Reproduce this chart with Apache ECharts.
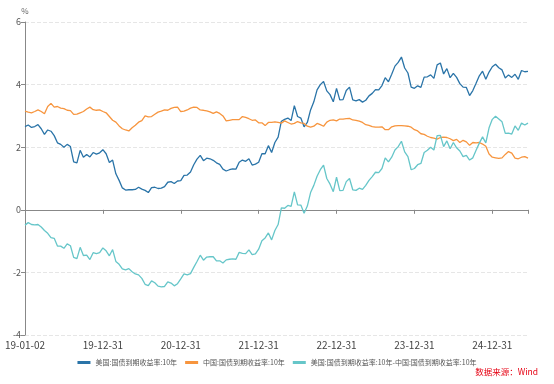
<!DOCTYPE html>
<html>
<head>
<meta charset="utf-8">
<script src="https://cdn.jsdelivr.net/npm/echarts@6/dist/echarts.min.js"></script>
<style>html,body{margin:0;padding:0;background:#fff;}#c{width:554px;height:384px;}</style>
</head>
<body>
<div id="c"></div>
<script>
// Semi-monthly observation dates (15th and month-end), first = 2019-01-02, last = 2025-06-15
const firstDate = '19-01-02';
const lastDate = '25-06-15';
const tickLabels = ['19-01-02','19-12-31','20-12-31','21-12-31','22-12-31','23-12-31','24-12-31'];
const seriesNames = ['美国:国债到期收益率:10年','中国:国债到期收益率:10年','美国:国债到期收益率:10年-中国:国债到期收益率:10年'];

const usYield = [
 2.66,2.71,2.63,2.66,2.72,2.59,2.41,2.55,2.51,2.37,2.14,2.09,2.00,2.09,2.02,1.53,1.50,1.90,1.68,1.77,1.69,1.83,1.78,1.82,1.92,
 1.79,1.51,1.59,1.15,0.94,0.70,0.63,0.64,0.64,0.65,0.72,0.66,0.62,0.55,0.71,0.72,0.68,0.69,0.74,0.88,0.90,0.84,0.92,0.93,
 1.10,1.11,1.21,1.44,1.62,1.74,1.57,1.65,1.63,1.58,1.50,1.45,1.30,1.24,1.28,1.31,1.30,1.52,1.59,1.55,1.63,1.43,1.46,1.52,
 1.79,1.79,2.05,1.83,2.15,2.32,2.83,2.89,2.93,2.85,3.33,2.98,2.93,2.65,2.79,3.19,3.45,3.83,4.00,4.10,3.80,3.68,3.45,3.88,
 3.51,3.52,3.81,3.92,3.51,3.48,3.52,3.44,3.50,3.64,3.72,3.84,3.83,3.97,4.22,4.09,4.33,4.59,4.71,4.88,4.53,4.37,3.92,3.88,
 3.96,3.91,4.24,4.25,4.31,4.20,4.63,4.69,4.34,4.51,4.22,4.36,4.23,4.03,3.92,3.91,3.65,3.81,4.04,4.28,4.43,4.17,4.40,4.57,
 4.65,4.54,4.47,4.21,4.31,4.23,4.33,4.17,4.45,4.41,4.42
];
const cnYield = [
 3.15,3.12,3.10,3.14,3.19,3.14,3.07,3.30,3.40,3.28,3.30,3.25,3.23,3.18,3.17,3.05,3.06,3.10,3.14,3.22,3.28,3.20,3.18,3.19,3.14,
 3.10,2.98,2.86,2.80,2.68,2.59,2.55,2.52,2.62,2.70,2.80,2.85,3.00,2.97,2.98,3.05,3.12,3.15,3.19,3.18,3.24,3.27,3.28,3.14,
 3.15,3.19,3.25,3.28,3.27,3.19,3.18,3.16,3.13,3.08,3.13,3.08,3.00,2.84,2.86,2.88,2.88,2.88,2.98,2.95,2.91,2.86,2.87,2.78,
 2.78,2.69,2.79,2.79,2.81,2.79,2.77,2.84,2.79,2.74,2.76,2.82,2.78,2.76,2.67,2.64,2.67,2.76,2.72,2.67,2.80,2.86,2.87,2.84,
 2.90,2.90,2.91,2.92,2.87,2.86,2.83,2.79,2.72,2.70,2.66,2.64,2.64,2.65,2.56,2.56,2.65,2.68,2.69,2.69,2.68,2.67,2.64,2.56,
 2.52,2.43,2.41,2.35,2.31,2.29,2.26,2.31,2.32,2.31,2.27,2.21,2.25,2.15,2.22,2.17,2.06,2.15,2.14,2.15,2.10,2.03,1.78,1.68,
 1.66,1.64,1.66,1.77,1.86,1.81,1.65,1.63,1.68,1.70,1.65
];
const spread = [
 -0.49,-0.41,-0.47,-0.48,-0.47,-0.55,-0.66,-0.75,-0.89,-0.91,-1.16,-1.16,-1.23,-1.09,-1.15,-1.52,-1.56,-1.20,-1.46,-1.45,-1.59,-1.37,-1.40,-1.37,-1.22,
 -1.31,-1.47,-1.27,-1.65,-1.74,-1.89,-1.92,-1.88,-1.98,-2.05,-2.08,-2.19,-2.38,-2.42,-2.27,-2.33,-2.44,-2.46,-2.45,-2.30,-2.34,-2.43,-2.36,-2.21,
 -2.05,-2.08,-2.04,-1.84,-1.65,-1.45,-1.61,-1.51,-1.50,-1.50,-1.63,-1.63,-1.70,-1.60,-1.58,-1.57,-1.58,-1.36,-1.39,-1.40,-1.28,-1.43,-1.41,-1.26,
 -0.99,-0.90,-0.74,-0.96,-0.66,-0.47,0.06,0.05,0.14,0.11,0.57,0.16,0.15,-0.11,0.12,0.55,0.78,1.07,1.28,1.43,1.00,0.82,0.58,1.04,
 0.61,0.62,0.90,1.00,0.64,0.62,0.69,0.65,0.78,0.94,1.06,1.20,1.19,1.32,1.66,1.53,1.68,1.91,2.02,2.19,1.85,1.70,1.28,1.32,
 1.44,1.48,1.83,1.90,2.00,1.91,2.37,2.38,2.02,2.20,1.95,2.15,1.98,1.88,1.70,1.74,1.59,1.66,1.90,2.13,2.33,2.14,2.62,2.89,
 2.99,2.90,2.81,2.44,2.45,2.42,2.68,2.54,2.77,2.71,2.77
];

// build category dates (calendar only)
const dates = [firstDate];
(function(){
  const pad = n => (n < 10 ? '0' : '') + n;
  for (let y = 2019; y <= 2025; y++) {
    for (let m = 1; m <= 12; m++) {
      const end = new Date(y, m, 0).getDate();
      const yy = String(y).slice(2);
      const d15 = yy + '-' + pad(m) + '-15';
      const dEnd = yy + '-' + pad(m) + '-' + pad(end);
      dates.push(d15);
      if (d15 === lastDate) return;
      dates.push(dEnd);
    }
  }
})();

const chart = echarts.init(document.getElementById('c'), null, {renderer: 'canvas'});
const fam = '"Noto Sans CJK SC", "Noto Sans", sans-serif';
const lastIdx = dates.length - 1;
chart.setOption({
  animation: false,
  textStyle: {fontFamily: fam},
  color: ['#2a74a8', '#f7953e', '#66c6c9'],
  grid: {left: 25, right: 26, top: 22, bottom: 49},
  legend: {
    top: 354, left: 'center',
    itemWidth: 13, itemHeight: 3, itemGap: 8,
    icon: 'rect',
    textStyle: {fontSize: 7, color: '#555', fontFamily: fam},
    data: seriesNames
  },
  xAxis: {
    type: 'category',
    data: dates,
    boundaryGap: false,
    axisLine: {lineStyle: {color: '#888'}},
    axisTick: {length: 4, lineStyle: {color: '#888'},
      interval: (i, v) => tickLabels.includes(v) || i === lastIdx},
    axisLabel: {fontSize: 10, color: '#444', margin: 5,
      interval: (i, v) => tickLabels.includes(v)},
    splitLine: {show: false}
  },
  yAxis: {
    type: 'value',
    min: -4, max: 6, interval: 2,
    name: '%', nameGap: 7,
    nameTextStyle: {fontSize: 8, color: '#666', align: 'center'},
    axisLine: {show: true, lineStyle: {color: '#888'}},
    axisTick: {show: true, length: 4, lineStyle: {color: '#888'}},
    axisLabel: {fontSize: 9, color: '#555', margin: 4},
    splitLine: {lineStyle: {color: '#e6e6e6', type: 'dashed'}}
  },
  graphic: [{
    type: 'text', right: 16, top: 368,
    style: {text: '数据来源：Wind', fill: '#e60012', fontSize: 8.5, fontFamily: fam}
  }],
  series: [
    {name: seriesNames[0], type: 'line', data: usYield, symbol: 'none', lineStyle: {width: 1.3}},
    {name: seriesNames[1], type: 'line', data: cnYield, symbol: 'none', lineStyle: {width: 1.3}},
    {name: seriesNames[2], type: 'line', data: spread, symbol: 'none', lineStyle: {width: 1.3}}
  ]
});
</script>
</body>
</html>
